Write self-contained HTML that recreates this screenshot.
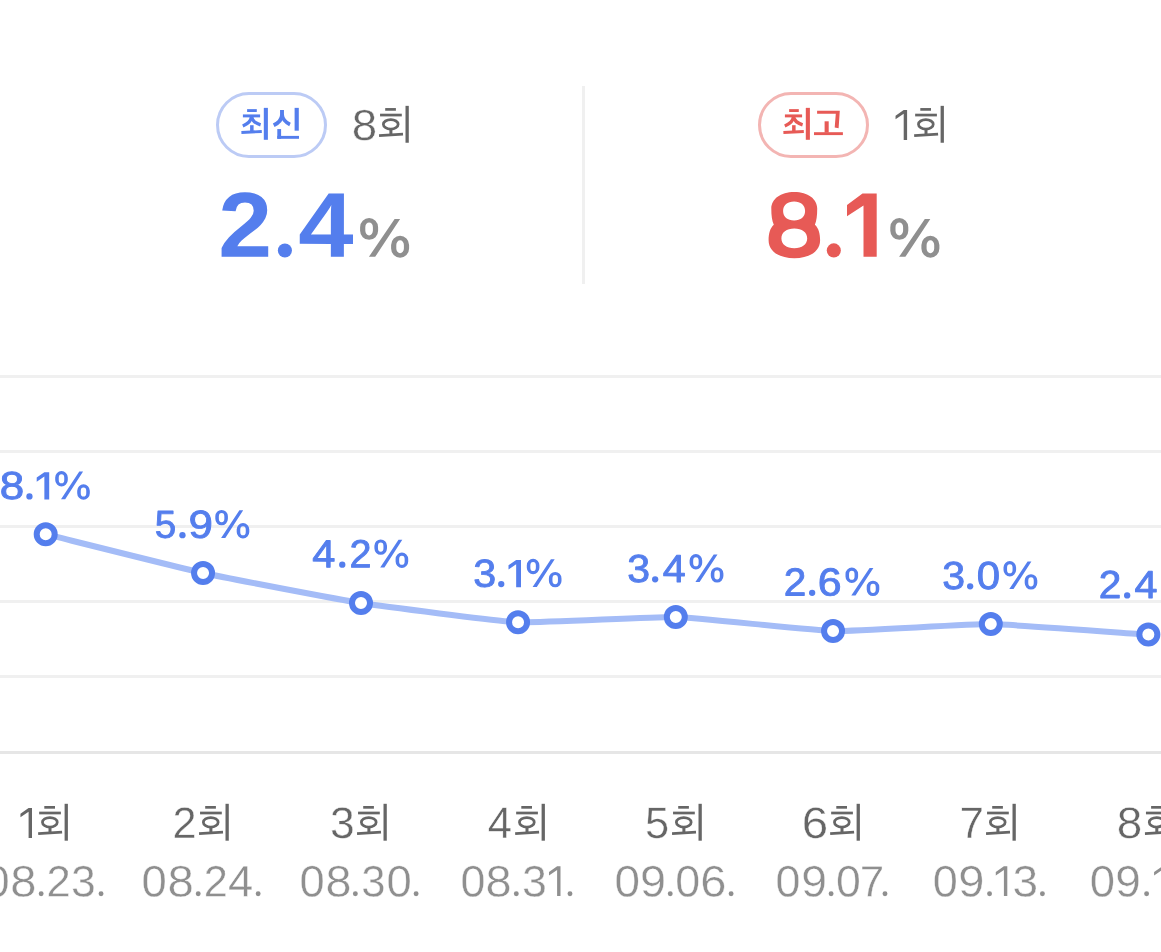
<!DOCTYPE html>
<html lang="ko"><head><meta charset="utf-8"><title>시청률</title>
<style>
html,body{margin:0;padding:0;background:#fff;}
body{width:1161px;height:952px;overflow:hidden;position:relative;font-family:"Liberation Sans",sans-serif;}
svg{position:absolute;left:0;top:0;display:block;will-change:transform;}
text{font-family:"Liberation Sans",sans-serif;white-space:pre;text-rendering:geometricPrecision;}
.b{font-weight:700;}
.h{fill:none;stroke:none;}
.m{paint-order:stroke;stroke-linejoin:round;}
.t{stroke-linejoin:round;}
</style></head><body>
<svg width="1161" height="952" viewBox="0 0 1161 952" role="img" aria-label="시청률 차트">
<defs>
<g id="hoe" fill="none" stroke-linecap="butt"><path d="M6.3 3.55H17" stroke-width="2.7"/><path d="M1.15 9.2H22.9" stroke-width="2.7"/><ellipse cx="11.85" cy="18.5" rx="7.4" ry="4.75" stroke-width="2.75"/><path d="M12 23.4V29.4" stroke-width="3"/><path d="M0.15 29.8L24.1 28.3" stroke-width="2.6"/><path d="M28.25 0V36.9" stroke-width="3.3"/></g>
<g id="choe" fill="none" stroke-linecap="butt"><path d="M11.1 8.55H20.8" stroke-width="2.85"/><path d="M6.9 13.9H24.1" stroke-width="2.95"/><path d="M15.5 14.6Q14.9 20.6 6.8 24" stroke-width="3.4"/><path d="M15.5 14.6Q16.3 20.4 24.6 22.8" stroke-width="3.4"/><path d="M15.85 23.2V30.2" stroke-width="3.5"/><path d="M5.4 30.55L25.8 29.5" stroke-width="2.9"/><path d="M29.85 5.86V37.8" stroke-width="4.1"/></g>
<g id="sin" fill="none" stroke-linecap="butt"><path d="M46 7.9V13.2Q45.6 19.6 37.7 23.3" stroke-width="3.9"/><path d="M46 12.2Q46.6 19 54 22.5" stroke-width="3.6"/><path d="M43.2 27.06V36.8" stroke-width="3.8"/><path d="M41.3 35.35H63" stroke-width="2.9"/><path d="M60.7 5.86V28.7" stroke-width="4.2"/></g>
<g id="go" fill="none" stroke-linecap="butt"><path d="M39.1 8.8H61.8L60.6 26.2L56.7 25.6L57.8 11.7H39.1Z" stroke="none" fill="currentColor"/><path d="M48.65 19.3V30.6" stroke-width="4.1"/><path d="M36 31.65H64.9" stroke-width="2.9"/></g>
</defs>
<rect x="0" y="375" width="1161" height="3" fill="#f0f0f0"/>
<rect x="0" y="450" width="1161" height="3" fill="#f0f0f0"/>
<rect x="0" y="525" width="1161" height="3" fill="#f0f0f0"/>
<rect x="0" y="600" width="1161" height="3" fill="#f0f0f0"/>
<rect x="0" y="675" width="1161" height="3" fill="#f0f0f0"/>
<rect x="0" y="751" width="1161" height="3" fill="#e6e6e6"/>
<rect x="582" y="86" width="3" height="198" fill="#f0f0f0"/>
<rect x="217.5" y="93.5" width="108" height="63" rx="31.5" fill="#fff" stroke="#bccbf5" stroke-width="3"/>
<rect x="759.5" y="93.5" width="108" height="63" rx="31.5" fill="#fff" stroke="#f3b5b3" stroke-width="3"/>
<g transform="translate(236 102)" stroke="#547eed" color="#547eed"><title>최신</title><use href="#choe"/><use href="#sin"/></g>
<g transform="translate(778 102)" stroke="#e75a56" color="#e75a56"><title>최고</title><use href="#choe"/><use href="#go"/></g>
<text class="t" transform="translate(351.71 139.88) rotate(0.03) scale(1.0445 0.9921)" font-size="43.7" fill="#666666" stroke="#fff" stroke-width="0.4">8</text>
<g transform="translate(378.9 105.85)" stroke="#666666"><title>회</title><use href="#hoe"/></g>
<path d="M907.1 110.06 L903.7 110.06 L895.55 115.81 L895.55 119.26 L903.7 113.66 L903.7 139.9 L907.1 139.9Z" fill="#666666"/>
<g transform="translate(914 105.85)" stroke="#666666"><title>회</title><use href="#hoe"/></g>
<text class="b" transform="translate(218.34 256.8) rotate(0.03) scale(1.0521 1.0041)" font-size="92" fill="#547eed">2</text>
<circle cx="284.9" cy="250.5" r="7.05" fill="#547eed"/>
<text class="b" transform="translate(298.3 256.8) rotate(0.03) scale(1.0796 1.0001)" font-size="92" fill="#547eed">4</text>
<path d="M369.1 218a9 9.18 0 0 1 9 9.18v3.5a9 9.18 0 0 1 -9 9.18a9 9.18 0 0 1 -9 -9.18v-3.5a9 9.18 0 0 1 9 -9.18zM369.1 222.43a3.8 4.81 0 0 1 3.8 4.81v3.38a3.8 4.81 0 0 1 -3.8 4.81a3.8 4.81 0 0 1 -3.8 -4.81v-3.38a3.8 4.81 0 0 1 3.8 -4.81zM400.1 235.85a9 9.18 0 0 1 9 9.18v3.5a9 9.18 0 0 1 -9 9.18a9 9.18 0 0 1 -9 -9.18v-3.5a9 9.18 0 0 1 9 -9.18zM400.1 240.27a3.8 4.81 0 0 1 3.8 4.81v3.38a3.8 4.81 0 0 1 -3.8 4.81a3.8 4.81 0 0 1 -3.8 -4.81v-3.38a3.8 4.81 0 0 1 3.8 -4.81zM394.6 218.9H400.1L375.2 256.8H368.9z" fill="#8f8f8f" fill-rule="evenodd"/>
<path d="M794.3 192C808 192 817.2 199 817.2 208.6C817.2 215.5 816.6 221 814.9 224.7C818.6 228 820.1 233.6 820.1 240.2C820.1 251.2 809.8 258.2 794.35 258.2C778.9 258.2 768.6 251.2 768.6 240.2C768.6 233.6 770.1 228 773.8 224.7C772 221 771.3 215.5 771.3 208.6C771.3 199 780.6 192 794.3 192zM794.1 201.5C800.7 201.5 805.1 205.3 805.1 211C805.1 216.7 800.7 220.5 794.1 220.5C787.5 220.5 783.1 216.7 783.1 211C783.1 205.3 787.5 201.5 794.1 201.5zM794.3 228.6C802.04 228.6 807.2 232.52 807.2 238.4C807.2 244.28 802.04 248.2 794.3 248.2C786.56 248.2 781.4 244.28 781.4 238.4C781.4 232.52 786.56 228.6 794.3 228.6z" fill="#e75a56" fill-rule="evenodd"/>
<circle cx="833.8" cy="250.4" r="7.05" fill="#e75a56"/>
<path d="M876.7 193.5 L862.5 193.5 L847 205.1 L847 216.2 L863.5 205.6 L863.5 256.8 L876.7 256.8Z" fill="#e75a56"/>
<path d="M899.3 218a9 9.18 0 0 1 9 9.18v3.5a9 9.18 0 0 1 -9 9.18a9 9.18 0 0 1 -9 -9.18v-3.5a9 9.18 0 0 1 9 -9.18zM899.3 222.43a3.8 4.81 0 0 1 3.8 4.81v3.38a3.8 4.81 0 0 1 -3.8 4.81a3.8 4.81 0 0 1 -3.8 -4.81v-3.38a3.8 4.81 0 0 1 3.8 -4.81zM930.4 235.85a9 9.18 0 0 1 9 9.18v3.5a9 9.18 0 0 1 -9 9.18a9 9.18 0 0 1 -9 -9.18v-3.5a9 9.18 0 0 1 9 -9.18zM930.4 240.27a3.8 4.81 0 0 1 3.8 4.81v3.38a3.8 4.81 0 0 1 -3.8 4.81a3.8 4.81 0 0 1 -3.8 -4.81v-3.38a3.8 4.81 0 0 1 3.8 -4.81zM924.8 218.9H930.3L905.4 256.8H899.1z" fill="#8f8f8f" fill-rule="evenodd"/>
<path d="M45.7 534.2C64.58 538.86 184.06 568.85 203.05 573C221.89 577.11 341.95 600.07 361 603.05C379.75 605.98 499.14 621.36 518.05 622.2C536.92 623.04 656.9 616.47 675.8 617C694.7 617.53 814.15 630.62 833.05 631.05C851.95 631.48 971.88 623.89 990.8 624.1C1009.72 624.31 1129.44 633.34 1148.35 634.6" fill="none" stroke="#a4bcf7" stroke-width="6" stroke-linejoin="round"/>
<circle cx="45.7" cy="534.2" r="9" fill="#fff" stroke="#547eed" stroke-width="6"/>
<circle cx="203.05" cy="573" r="9" fill="#fff" stroke="#547eed" stroke-width="6"/>
<circle cx="361" cy="603.05" r="9" fill="#fff" stroke="#547eed" stroke-width="6"/>
<circle cx="518.05" cy="622.2" r="9" fill="#fff" stroke="#547eed" stroke-width="6"/>
<circle cx="675.8" cy="617" r="9" fill="#fff" stroke="#547eed" stroke-width="6"/>
<circle cx="833.05" cy="631.05" r="9" fill="#fff" stroke="#547eed" stroke-width="6"/>
<circle cx="990.8" cy="624.1" r="9" fill="#fff" stroke="#547eed" stroke-width="6"/>
<circle cx="1148.35" cy="634.6" r="9" fill="#fff" stroke="#547eed" stroke-width="6"/>
<g aria-label="8.1%">
<text class="m" transform="translate(-0.14 499) rotate(0.03) scale(1.1271 1.0000)" font-size="39" fill="#547eed" stroke="#547eed" stroke-width="0.9">8</text>
<circle cx="29.45" cy="496.4" r="3.15" fill="#547eed"/>
<path d="M49.2 472.2 L44.36 472.2 L36.71 477.54 L36.71 481.77 L44.36 476.53 L44.36 499.5 L49.2 499.5Z" fill="#547eed"/>
<path d="M61.5 471.1a6.3 6.47 0 0 1 6.3 6.47v2.46a6.3 6.47 0 0 1 -6.3 6.47a6.3 6.47 0 0 1 -6.3 -6.47v-2.46a6.3 6.47 0 0 1 6.3 -6.47zM61.5 474.25a2.75 3.37 0 0 1 2.75 3.37v2.37a2.75 3.37 0 0 1 -2.75 3.37a2.75 3.37 0 0 1 -2.75 -3.37v-2.37a2.75 3.37 0 0 1 2.75 -3.37zM83.5 484.25a6.3 6.47 0 0 1 6.3 6.47v2.46a6.3 6.47 0 0 1 -6.3 6.47a6.3 6.47 0 0 1 -6.3 -6.47v-2.46a6.3 6.47 0 0 1 6.3 -6.47zM83.5 487.4a2.75 3.37 0 0 1 2.75 3.37v2.37a2.75 3.37 0 0 1 -2.75 3.37a2.75 3.37 0 0 1 -2.75 -3.37v-2.37a2.75 3.37 0 0 1 2.75 -3.37zM79.3 471.55H83.1L65.2 499.2H61z" fill="#547eed" fill-rule="evenodd"/>
</g>
<g aria-label="5.9%">
<text class="m" transform="translate(154.7 537.8) rotate(0.03) scale(0.9902 1.0000)" font-size="39" fill="#547eed" stroke="#547eed" stroke-width="0.9">5</text>
<circle cx="182.43" cy="535.2" r="3.15" fill="#547eed"/>
<text class="m" transform="translate(188.45 537.8) rotate(0.03) scale(1.1261 1.0000)" font-size="39" fill="#547eed" stroke="#547eed" stroke-width="0.9">9</text>
<path d="M221.6 509.9a6.3 6.47 0 0 1 6.3 6.47v2.46a6.3 6.47 0 0 1 -6.3 6.47a6.3 6.47 0 0 1 -6.3 -6.47v-2.46a6.3 6.47 0 0 1 6.3 -6.47zM221.6 513.05a2.75 3.37 0 0 1 2.75 3.37v2.37a2.75 3.37 0 0 1 -2.75 3.37a2.75 3.37 0 0 1 -2.75 -3.37v-2.37a2.75 3.37 0 0 1 2.75 -3.37zM243 523.05a6.3 6.47 0 0 1 6.3 6.47v2.46a6.3 6.47 0 0 1 -6.3 6.47a6.3 6.47 0 0 1 -6.3 -6.47v-2.46a6.3 6.47 0 0 1 6.3 -6.47zM243 526.2a2.75 3.37 0 0 1 2.75 3.37v2.37a2.75 3.37 0 0 1 -2.75 3.37a2.75 3.37 0 0 1 -2.75 -3.37v-2.37a2.75 3.37 0 0 1 2.75 -3.37zM239.4 510.35H243.2L225.3 538H221.1z" fill="#547eed" fill-rule="evenodd"/>
</g>
<g aria-label="4.2%">
<text class="m" transform="translate(312.33 567.3) rotate(0.03) scale(1.0656 1.0000)" font-size="39" fill="#547eed" stroke="#547eed" stroke-width="0.9">4</text>
<circle cx="342.25" cy="564.7" r="3.15" fill="#547eed"/>
<text class="m" transform="translate(349.47 567.3) rotate(0.03) scale(1.0125 1.0000)" font-size="39" fill="#547eed" stroke="#547eed" stroke-width="0.9">2</text>
<path d="M380.7 539.4a6.3 6.47 0 0 1 6.3 6.47v2.46a6.3 6.47 0 0 1 -6.3 6.47a6.3 6.47 0 0 1 -6.3 -6.47v-2.46a6.3 6.47 0 0 1 6.3 -6.47zM380.7 542.55a2.75 3.37 0 0 1 2.75 3.37v2.37a2.75 3.37 0 0 1 -2.75 3.37a2.75 3.37 0 0 1 -2.75 -3.37v-2.37a2.75 3.37 0 0 1 2.75 -3.37zM401.9 552.55a6.3 6.47 0 0 1 6.3 6.47v2.46a6.3 6.47 0 0 1 -6.3 6.47a6.3 6.47 0 0 1 -6.3 -6.47v-2.46a6.3 6.47 0 0 1 6.3 -6.47zM401.9 555.7a2.75 3.37 0 0 1 2.75 3.37v2.37a2.75 3.37 0 0 1 -2.75 3.37a2.75 3.37 0 0 1 -2.75 -3.37v-2.37a2.75 3.37 0 0 1 2.75 -3.37zM398.5 539.85H402.3L384.4 567.5H380.2z" fill="#547eed" fill-rule="evenodd"/>
</g>
<g aria-label="3.1%">
<text class="m" transform="translate(473.21 586.7) rotate(0.03) scale(1.0572 1.0000)" font-size="39" fill="#547eed" stroke="#547eed" stroke-width="0.9">3</text>
<circle cx="501.25" cy="584.1" r="3.15" fill="#547eed"/>
<path d="M521 559.9 L516.16 559.9 L508.51 565.24 L508.51 569.47 L516.16 564.23 L516.16 587.2 L521 587.2Z" fill="#547eed"/>
<path d="M533.1 558.8a6.3 6.47 0 0 1 6.3 6.47v2.46a6.3 6.47 0 0 1 -6.3 6.47a6.3 6.47 0 0 1 -6.3 -6.47v-2.46a6.3 6.47 0 0 1 6.3 -6.47zM533.1 561.95a2.75 3.37 0 0 1 2.75 3.37v2.37a2.75 3.37 0 0 1 -2.75 3.37a2.75 3.37 0 0 1 -2.75 -3.37v-2.37a2.75 3.37 0 0 1 2.75 -3.37zM555.2 571.95a6.3 6.47 0 0 1 6.3 6.47v2.46a6.3 6.47 0 0 1 -6.3 6.47a6.3 6.47 0 0 1 -6.3 -6.47v-2.46a6.3 6.47 0 0 1 6.3 -6.47zM555.2 575.1a2.75 3.37 0 0 1 2.75 3.37v2.37a2.75 3.37 0 0 1 -2.75 3.37a2.75 3.37 0 0 1 -2.75 -3.37v-2.37a2.75 3.37 0 0 1 2.75 -3.37zM550.9 559.25H554.7L536.8 586.9H532.6z" fill="#547eed" fill-rule="evenodd"/>
</g>
<g aria-label="3.4%">
<text class="m" transform="translate(627.31 581.9) rotate(0.03) scale(1.0520 1.0000)" font-size="39" fill="#547eed" stroke="#547eed" stroke-width="0.9">3</text>
<circle cx="655.15" cy="579.3" r="3.15" fill="#547eed"/>
<text class="m" transform="translate(662.63 581.9) rotate(0.03) scale(1.0558 1.0000)" font-size="39" fill="#547eed" stroke="#547eed" stroke-width="0.9">4</text>
<path d="M695.9 554a6.3 6.47 0 0 1 6.3 6.47v2.46a6.3 6.47 0 0 1 -6.3 6.47a6.3 6.47 0 0 1 -6.3 -6.47v-2.46a6.3 6.47 0 0 1 6.3 -6.47zM695.9 557.15a2.75 3.37 0 0 1 2.75 3.37v2.37a2.75 3.37 0 0 1 -2.75 3.37a2.75 3.37 0 0 1 -2.75 -3.37v-2.37a2.75 3.37 0 0 1 2.75 -3.37zM717.1 567.15a6.3 6.47 0 0 1 6.3 6.47v2.46a6.3 6.47 0 0 1 -6.3 6.47a6.3 6.47 0 0 1 -6.3 -6.47v-2.46a6.3 6.47 0 0 1 6.3 -6.47zM717.1 570.3a2.75 3.37 0 0 1 2.75 3.37v2.37a2.75 3.37 0 0 1 -2.75 3.37a2.75 3.37 0 0 1 -2.75 -3.37v-2.37a2.75 3.37 0 0 1 2.75 -3.37zM713.7 554.45H717.5L699.6 582.1H695.4z" fill="#547eed" fill-rule="evenodd"/>
</g>
<g aria-label="2.6%">
<text class="m" transform="translate(783.83 595.4) rotate(0.03) scale(1.0393 1.0000)" font-size="39" fill="#547eed" stroke="#547eed" stroke-width="0.9">2</text>
<circle cx="812.15" cy="592.8" r="3.15" fill="#547eed"/>
<text class="m" transform="translate(817.72 595.4) rotate(0.03) scale(1.1008 1.0000)" font-size="39" fill="#547eed" stroke="#547eed" stroke-width="0.9">6</text>
<path d="M851.8 567.5a6.3 6.47 0 0 1 6.3 6.47v2.46a6.3 6.47 0 0 1 -6.3 6.47a6.3 6.47 0 0 1 -6.3 -6.47v-2.46a6.3 6.47 0 0 1 6.3 -6.47zM851.8 570.65a2.75 3.37 0 0 1 2.75 3.37v2.37a2.75 3.37 0 0 1 -2.75 3.37a2.75 3.37 0 0 1 -2.75 -3.37v-2.37a2.75 3.37 0 0 1 2.75 -3.37zM873 580.65a6.3 6.47 0 0 1 6.3 6.47v2.46a6.3 6.47 0 0 1 -6.3 6.47a6.3 6.47 0 0 1 -6.3 -6.47v-2.46a6.3 6.47 0 0 1 6.3 -6.47zM873 583.8a2.75 3.37 0 0 1 2.75 3.37v2.37a2.75 3.37 0 0 1 -2.75 3.37a2.75 3.37 0 0 1 -2.75 -3.37v-2.37a2.75 3.37 0 0 1 2.75 -3.37zM869.6 567.95H873.4L855.5 595.6H851.3z" fill="#547eed" fill-rule="evenodd"/>
</g>
<g aria-label="3.0%">
<text class="m" transform="translate(942.31 588.9) rotate(0.03) scale(1.0520 1.0000)" font-size="39" fill="#547eed" stroke="#547eed" stroke-width="0.9">3</text>
<circle cx="970.15" cy="586.3" r="3.15" fill="#547eed"/>
<text class="m" transform="translate(976.65 588.9) rotate(0.03) scale(1.0745 1.0000)" font-size="39" fill="#547eed" stroke="#547eed" stroke-width="0.9">0</text>
<path d="M1009.8 561a6.3 6.47 0 0 1 6.3 6.47v2.46a6.3 6.47 0 0 1 -6.3 6.47a6.3 6.47 0 0 1 -6.3 -6.47v-2.46a6.3 6.47 0 0 1 6.3 -6.47zM1009.8 564.15a2.75 3.37 0 0 1 2.75 3.37v2.37a2.75 3.37 0 0 1 -2.75 3.37a2.75 3.37 0 0 1 -2.75 -3.37v-2.37a2.75 3.37 0 0 1 2.75 -3.37zM1031 574.15a6.3 6.47 0 0 1 6.3 6.47v2.46a6.3 6.47 0 0 1 -6.3 6.47a6.3 6.47 0 0 1 -6.3 -6.47v-2.46a6.3 6.47 0 0 1 6.3 -6.47zM1031 577.3a2.75 3.37 0 0 1 2.75 3.37v2.37a2.75 3.37 0 0 1 -2.75 3.37a2.75 3.37 0 0 1 -2.75 -3.37v-2.37a2.75 3.37 0 0 1 2.75 -3.37zM1027.6 561.45H1031.4L1013.5 589.1H1009.3z" fill="#547eed" fill-rule="evenodd"/>
</g>
<g aria-label="2.4%">
<text class="m" transform="translate(1098.83 598) rotate(0.03) scale(1.0393 1.0000)" font-size="39" fill="#547eed" stroke="#547eed" stroke-width="0.9">2</text>
<circle cx="1127.15" cy="595.4" r="3.15" fill="#547eed"/>
<text class="m" transform="translate(1134.58 598) rotate(0.03) scale(1.0583 1.0000)" font-size="39" fill="#547eed" stroke="#547eed" stroke-width="0.9">4</text>
</g>
<g aria-label="1회">
<path d="M32 808.06 L28.6 808.06 L20.45 813.81 L20.45 817.26 L28.6 811.66 L28.6 837.9 L32 837.9Z" fill="#666666"/>
<g transform="translate(38 803.8)" stroke="#666666"><use href="#hoe"/></g>
</g>
<g aria-label="2회">
<text class="t" transform="translate(172.53 838) rotate(0.03) scale(0.9802 1.0000)" font-size="44.1" fill="#666666" stroke="#fff" stroke-width="0.4">2</text>
<g transform="translate(198.9 803.8)" stroke="#666666"><use href="#hoe"/></g>
</g>
<g aria-label="3회">
<text class="t" transform="translate(329.96 838) rotate(0.03) scale(1.0069 1.0000)" font-size="44.1" fill="#666666" stroke="#fff" stroke-width="0.4">3</text>
<g transform="translate(356.9 803.8)" stroke="#666666"><use href="#hoe"/></g>
</g>
<g aria-label="4회">
<text class="t" transform="translate(487.65 838) rotate(0.03) scale(0.9875 1.0000)" font-size="44.1" fill="#666666" stroke="#fff" stroke-width="0.4">4</text>
<g transform="translate(515 803.8)" stroke="#666666"><use href="#hoe"/></g>
</g>
<g aria-label="5회">
<text class="t" transform="translate(645.06 838) rotate(0.03) scale(0.9849 1.0000)" font-size="44.1" fill="#666666" stroke="#fff" stroke-width="0.4">5</text>
<g transform="translate(671.9 803.8)" stroke="#666666"><use href="#hoe"/></g>
</g>
<g aria-label="6회">
<text class="t" transform="translate(801.87 838) rotate(0.03) scale(1.0778 1.0000)" font-size="44.1" fill="#666666" stroke="#fff" stroke-width="0.4">6</text>
<g transform="translate(830 803.8)" stroke="#666666"><use href="#hoe"/></g>
</g>
<g aria-label="7회">
<text class="t" transform="translate(959.44 838) rotate(0.03) scale(0.9976 1.0000)" font-size="44.1" fill="#666666" stroke="#fff" stroke-width="0.4">7</text>
<g transform="translate(985.9 803.8)" stroke="#666666"><use href="#hoe"/></g>
</g>
<g aria-label="8회">
<text class="t" transform="translate(1116.7 838) rotate(0.03) scale(1.0397 1.0000)" font-size="44.1" fill="#666666" stroke="#fff" stroke-width="0.4">8</text>
<g transform="translate(1144.8 803.8)" stroke="#666666"><use href="#hoe"/></g>
</g>
<g aria-label="08.23.">
<text class="t" transform="translate(-15.57 896.4) rotate(0.03) scale(1.0251 1.0000)" font-size="44.1" fill="#8f8f8f" stroke="#fff" stroke-width="0.4">0</text>
<text class="t" transform="translate(10.24 896.4) rotate(0.03) scale(1.0693 1.0000)" font-size="44.1" fill="#8f8f8f" stroke="#fff" stroke-width="0.4">8</text>
<circle cx="41.15" cy="893.7" r="2.45" fill="#8f8f8f"/>
<text class="t" transform="translate(46.52 896.4) rotate(0.03) scale(0.9852 1.0000)" font-size="44.1" fill="#8f8f8f" stroke="#fff" stroke-width="0.4">2</text>
<text class="t" transform="translate(70.9 896.4) rotate(0.03) scale(1.0093 1.0000)" font-size="44.1" fill="#8f8f8f" stroke="#fff" stroke-width="0.4">3</text>
<circle cx="101.05" cy="893.7" r="2.45" fill="#8f8f8f"/>
</g>
<g aria-label="08.24.">
<text class="t" transform="translate(141.62 896.4) rotate(0.03) scale(1.0299 1.0000)" font-size="44.1" fill="#8f8f8f" stroke="#fff" stroke-width="0.4">0</text>
<text class="t" transform="translate(167.43 896.4) rotate(0.03) scale(1.0742 1.0000)" font-size="44.1" fill="#8f8f8f" stroke="#fff" stroke-width="0.4">8</text>
<circle cx="198.2" cy="893.7" r="2.45" fill="#8f8f8f"/>
<text class="t" transform="translate(203.63 896.4) rotate(0.03) scale(0.9802 1.0000)" font-size="44.1" fill="#8f8f8f" stroke="#fff" stroke-width="0.4">2</text>
<text class="t" transform="translate(227.96 896.4) rotate(0.03) scale(1.0265 1.0000)" font-size="44.1" fill="#8f8f8f" stroke="#fff" stroke-width="0.4">4</text>
<circle cx="258.15" cy="893.7" r="2.45" fill="#8f8f8f"/>
</g>
<g aria-label="08.30.">
<text class="t" transform="translate(299.42 896.4) rotate(0.03) scale(1.0275 1.0000)" font-size="44.1" fill="#8f8f8f" stroke="#fff" stroke-width="0.4">0</text>
<text class="t" transform="translate(325.46 896.4) rotate(0.03) scale(1.0595 1.0000)" font-size="44.1" fill="#8f8f8f" stroke="#fff" stroke-width="0.4">8</text>
<circle cx="355.35" cy="893.7" r="2.45" fill="#8f8f8f"/>
<text class="t" transform="translate(361.14 896.4) rotate(0.03) scale(0.9898 1.0000)" font-size="44.1" fill="#8f8f8f" stroke="#fff" stroke-width="0.4">3</text>
<text class="t" transform="translate(386.42 896.4) rotate(0.03) scale(1.0299 1.0000)" font-size="44.1" fill="#8f8f8f" stroke="#fff" stroke-width="0.4">0</text>
<circle cx="416.1" cy="893.7" r="2.45" fill="#8f8f8f"/>
</g>
<g aria-label="08.31.">
<text class="t" transform="translate(460.55 896.4) rotate(0.03) scale(1.0154 1.0000)" font-size="44.1" fill="#8f8f8f" stroke="#fff" stroke-width="0.4">0</text>
<text class="t" transform="translate(485.45 896.4) rotate(0.03) scale(1.0644 1.0000)" font-size="44.1" fill="#8f8f8f" stroke="#fff" stroke-width="0.4">8</text>
<circle cx="516.3" cy="893.7" r="2.45" fill="#8f8f8f"/>
<text class="t" transform="translate(521.89 896.4) rotate(0.03) scale(1.0142 1.0000)" font-size="44.1" fill="#8f8f8f" stroke="#fff" stroke-width="0.4">3</text>
<path d="M560.5 866.35 L557.11 866.35 L548.99 872.08 L548.99 875.52 L557.11 869.94 L557.11 896.1 L560.5 896.1Z" fill="#8f8f8f"/>
<circle cx="570" cy="893.7" r="2.45" fill="#8f8f8f"/>
</g>
<g aria-label="09.06.">
<text class="t" transform="translate(614.4 896.4) rotate(0.03) scale(1.0396 1.0000)" font-size="44.1" fill="#8f8f8f" stroke="#fff" stroke-width="0.4">0</text>
<text class="t" transform="translate(639.99 896.4) rotate(0.03) scale(1.0616 1.0000)" font-size="44.1" fill="#8f8f8f" stroke="#fff" stroke-width="0.4">9</text>
<circle cx="670.25" cy="893.7" r="2.45" fill="#8f8f8f"/>
<text class="t" transform="translate(675.15 896.4) rotate(0.03) scale(1.0154 1.0000)" font-size="44.1" fill="#8f8f8f" stroke="#fff" stroke-width="0.4">0</text>
<text class="t" transform="translate(700.2 896.4) rotate(0.03) scale(1.0677 1.0000)" font-size="44.1" fill="#8f8f8f" stroke="#fff" stroke-width="0.4">6</text>
<circle cx="731.1" cy="893.7" r="2.45" fill="#8f8f8f"/>
</g>
<g aria-label="09.07.">
<text class="t" transform="translate(775.55 896.4) rotate(0.03) scale(1.0154 1.0000)" font-size="44.1" fill="#8f8f8f" stroke="#fff" stroke-width="0.4">0</text>
<text class="t" transform="translate(801.22 896.4) rotate(0.03) scale(1.0491 1.0000)" font-size="44.1" fill="#8f8f8f" stroke="#fff" stroke-width="0.4">9</text>
<circle cx="831.1" cy="893.7" r="2.45" fill="#8f8f8f"/>
<text class="t" transform="translate(836.06 896.4) rotate(0.03) scale(1.0106 1.0000)" font-size="44.1" fill="#8f8f8f" stroke="#fff" stroke-width="0.4">0</text>
<text class="t" transform="translate(859.64 896.4) rotate(0.03) scale(0.9976 1.0000)" font-size="44.1" fill="#8f8f8f" stroke="#fff" stroke-width="0.4">7</text>
<circle cx="885" cy="893.7" r="2.45" fill="#8f8f8f"/>
</g>
<g aria-label="09.13.">
<text class="t" transform="translate(932.84 896.4) rotate(0.03) scale(1.0203 1.0000)" font-size="44.1" fill="#8f8f8f" stroke="#fff" stroke-width="0.4">0</text>
<text class="t" transform="translate(958.18 896.4) rotate(0.03) scale(1.0666 1.0000)" font-size="44.1" fill="#8f8f8f" stroke="#fff" stroke-width="0.4">9</text>
<circle cx="989.55" cy="893.7" r="2.45" fill="#8f8f8f"/>
<path d="M1007.3 866.35 L1003.91 866.35 L995.79 872.08 L995.79 875.52 L1003.91 869.94 L1003.91 896.1 L1007.3 896.1Z" fill="#8f8f8f"/>
<text class="t" transform="translate(1012.44 896.4) rotate(0.03) scale(1.0435 1.0000)" font-size="44.1" fill="#8f8f8f" stroke="#fff" stroke-width="0.4">3</text>
<circle cx="1042.4" cy="893.7" r="2.45" fill="#8f8f8f"/>
</g>
<g aria-label="09.14.">
<text class="t" transform="translate(1089.72 896.4) rotate(0.03) scale(1.0299 1.0000)" font-size="44.1" fill="#8f8f8f" stroke="#fff" stroke-width="0.4">0</text>
<text class="t" transform="translate(1115.34 896.4) rotate(0.03) scale(1.0415 1.0000)" font-size="44.1" fill="#8f8f8f" stroke="#fff" stroke-width="0.4">9</text>
<circle cx="1146.6" cy="893.7" r="2.45" fill="#8f8f8f"/>
<path d="M1165.6 866.35 L1162.21 866.35 L1154.09 872.08 L1154.09 875.52 L1162.21 869.94 L1162.21 896.1 L1165.6 896.1Z" fill="#8f8f8f"/>
</g>
</svg>
</body></html>
